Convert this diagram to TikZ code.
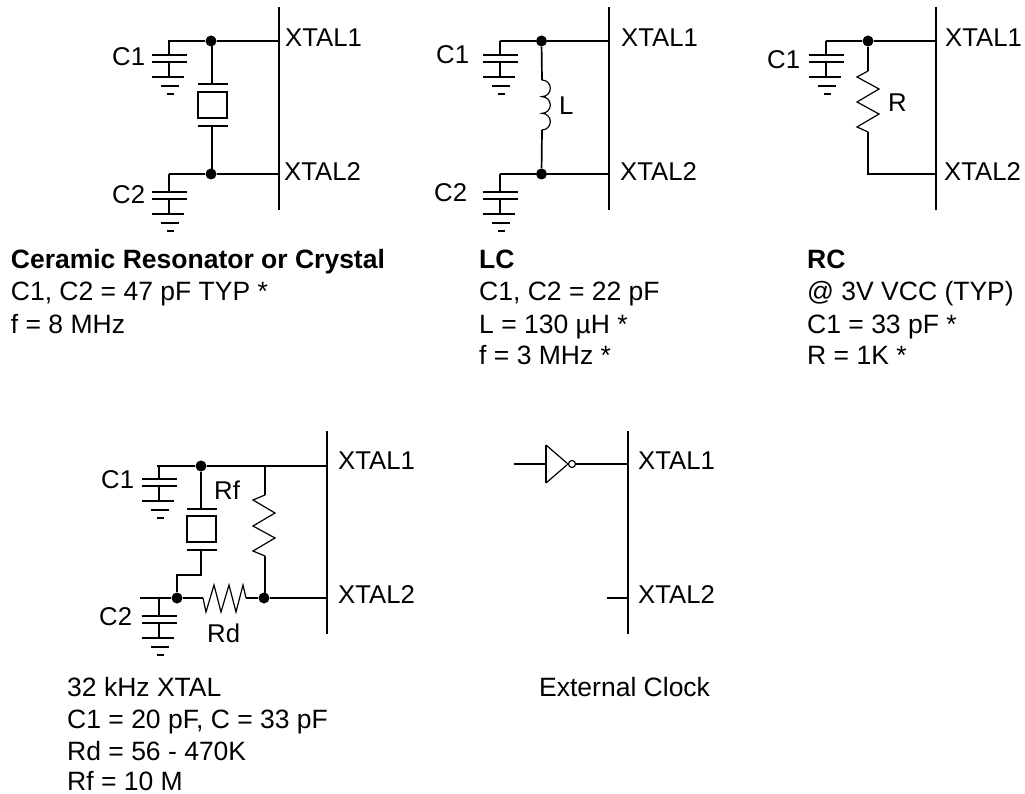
\documentclass[tikz,border=0pt]{standalone}
\usepackage{fontspec}
\setmainfont{Liberation Sans}
\newcommand{\capgnd}[3]{% x, wire y, first plate y
 \draw[wire] (#1,-#2) -- (#1,-#3);
 \draw[wire] (#1-17,-#3) -- (#1+18,-#3);
 \draw[wire] (#1-17,-#3-7) -- (#1+18,-#3-7);
 \draw[wire] (#1,-#3-7) -- (#1,-#3-22);
 \draw[wire] (#1-17,-#3-22) -- (#1+15,-#3-22);
 \draw[wire] (#1-8,-#3-31) -- (#1+10,-#3-31);
 \draw[wire] (#1-2,-#3-39) -- (#1+5,-#3-39);
}
\tikzset{
 x=1pt,y=1pt,
 wire/.style={line width=1.7pt,line cap=butt},
 thin wire/.style={line width=1.2pt},
 jdot/.style={circle,fill=black,inner sep=0pt,minimum size=11pt},
 lbl/.style={font=\fontsize{25.7}{31}\selectfont,anchor=west,inner sep=0pt},
 blk/.style={font=\fontsize{26.5}{32}\selectfont,inner sep=0pt,anchor=base west},
}
\begin{document}
\begin{tikzpicture}
\useasboundingbox (0,0) rectangle (1025,-794);
% ---- panel 1
\draw[wire] (279,-7) -- (279,-210);
\node[jdot] (a1j) at (211,-41) {};
\node[jdot] (a2j) at (211,-174) {};
\coordinate (a1x) at (279,-41); \coordinate (a2x) at (279,-174);
\coordinate (a1c) at (168,-41); \coordinate (a2c) at (169,-174);
\draw[wire] (a1c) -- (a1j) -- (a1x);
\draw[wire] (a2c) -- (a2j) -- (a2x);
\node[draw,line width=1.7pt,minimum width=29pt,minimum height=26pt,inner sep=0pt] (a1q) at (212.5,-105) {};
\coordinate (a1p) at (212,-84); \coordinate (a2p) at (212,-126);
\draw[wire] (212,-41) -- (a1p); \draw[wire] (a2p) -- (212,-174);
\draw[wire] (198,-84) -- (228,-84); \draw[wire] (198,-126) -- (228,-126);
\capgnd{169}{41}{55}
\capgnd{169}{174}{192}
\node[lbl] (a1l) at (112,-57) {C1};
\node[lbl] (a2l) at (112,-195) {C2};
\node[lbl] (a1n) at (285,-38) {XTAL1};
\node[lbl] (a2n) at (284,-172) {XTAL2};
\node[blk] (a3a) at (10.7,-269) {\textbf{Ceramic Resonator or Crystal}};
\node[blk] (a3b) at (10.7,-301) {C1, C2 = 47 pF TYP *};
\node[blk] (a3c) at (10.7,-333) {f = 8 MHz};
% ---- panel 2
\draw[wire] (609,-7) -- (609,-210);
\node[jdot] (b1j) at (541.5,-41) {};
\node[jdot] (b2j) at (541.5,-174) {};
\coordinate (b1x) at (609,-41); \coordinate (b2x) at (609,-174);
\coordinate (b1c) at (500,-41); \coordinate (b2c) at (500,-174);
\coordinate (bi1) at (542,-80); \coordinate (bi2) at (542,-130);
\draw[wire] (b1c) -- (b1j) -- (b1x);
\draw[wire] (b2c) -- (b2j) -- (b2x);
\draw[wire] (b1j) -- (bi1);
\draw[wire] (bi2) -- (b2j);
\draw[thin wire] (bi1) arc[start angle=90,end angle=-90,radius=8.33]
 arc[start angle=90,end angle=-90,radius=8.33]
 arc[start angle=90,end angle=-90,radius=8.33];
\capgnd{500}{41}{55}
\capgnd{500}{174}{192}
\node[lbl] (b1l) at (436,-55) {C1};
\node[lbl] (b2l) at (434,-193) {C2};
\node[lbl] (bL) at (559,-106) {L};
\node[lbl] (b1n) at (621,-38) {XTAL1};
\node[lbl] (b2n) at (620,-172) {XTAL2};
\node[blk] (b3a) at (479,-269) {\textbf{LC}};
\node[blk] (b3b) at (479,-301) {C1, C2 = 22 pF};
\node[blk] (b3c) at (479,-333) {L = 130 µH *};
\node[blk] (b3d) at (479,-364) {f = 3 MHz *};
% ---- panel 3
\draw[wire] (936,-7) -- (936,-210);
\node[jdot] (c1j) at (868,-41) {};
\coordinate (c1x) at (936,-41); \coordinate (c2x) at (936,-174);
\coordinate (c1c) at (826,-41);
\draw[wire] (c1c) -- (c1j) -- (c1x);
\draw[wire] (c1j) -- (868,-71);
\draw[thin wire] (868,-71) -- (857,-77) -- (879,-89) -- (857,-102) -- (879,-114) -- (857,-127) -- (868,-132);
\draw[wire,line join=miter] (868,-132) -- (868,-174) -- (c2x);
\capgnd{826}{41}{55}
\node[lbl] (c1l) at (767,-60) {C1};
\node[lbl] (cR) at (888,-103) {R};
\node[lbl] (c1n) at (945,-38) {XTAL1};
\node[lbl] (c2n) at (944,-172) {XTAL2};
\node[blk] (c3a) at (807,-269) {\textbf{RC}};
\node[blk] (c3b) at (807,-301) {@ 3V VCC (TYP)};
\node[blk] (c3c) at (807,-333) {C1 = 33 pF *};
\node[blk] (c3d) at (807,-364) {R = 1K *};
% ---- panel 4
\draw[wire] (327,-431) -- (327,-634);
\node[jdot] (d1j) at (201,-466) {};
\node[jdot] (d2j) at (177,-598) {};
\node[jdot] (d3j) at (264,-598) {};
\coordinate (d1x) at (327,-466); \coordinate (d2x) at (327,-598);
\coordinate (d1c) at (157,-466); \coordinate (d2c) at (140,-598);
\draw[wire] (d1c) -- (d1j) -- (d1x);
\draw[wire] (d2c) -- (d2j);
\draw[wire] (d3j) -- (d2x);
\draw[wire] (d2j) -- (203,-598);
\draw[thin wire] (203,-598) -- (206,-612) -- (214,-585) -- (221,-612) -- (229,-585) -- (236,-612) -- (243,-585) -- (246,-598);
\draw[wire] (246,-598) -- (d3j);
\draw[wire] (d1j) -- (201,-509);
\draw[wire] (187,-509) -- (217,-509);
\node[draw,line width=1.7pt,minimum width=29pt,minimum height=26pt,inner sep=0pt] (d1q) at (201.7,-529) {};
\draw[wire] (187,-550) -- (217,-550);
\draw[wire] (201,-550) -- (201,-575) -- (177,-575) -- (d2j);
\draw[wire] (265,-466) -- (265,-495);
\draw[thin wire] (265,-495) -- (253,-500) -- (275,-513) -- (253,-526) -- (275,-538) -- (253,-551) -- (265,-556);
\draw[wire] (265,-556) -- (265,-598);
\capgnd{159}{466}{479}
\capgnd{159}{598}{616}
\node[lbl] (d1l) at (101,-480) {C1};
\node[lbl] (d2l) at (99,-617) {C2};
\node[lbl] (dRf) at (214,-490) {Rf};
\node[lbl] (dRd) at (207,-633) {Rd};
\node[lbl] (d1n) at (338,-461) {XTAL1};
\node[lbl] (d2n) at (338,-595) {XTAL2};
\node[blk] (d3a) at (67,-696) {32 kHz XTAL};
\node[blk] (d3b) at (67,-728) {C1 = 20 pF, C = 33 pF};
\node[blk] (d3c) at (67,-760) {Rd = 56 - 470K};
\node[blk] (d3d) at (67,-790) {Rf = 10 M};
% ---- panel 5
\draw[wire] (628,-431) -- (628,-634);
\coordinate (e1i) at (514,-464); \coordinate (e1g) at (546,-464);
\coordinate (e1x) at (628,-464);
\coordinate (e2s) at (607,-598); \coordinate (e2x) at (628,-598);
\draw[wire] (e1i) -- (e1g);
\draw[wire] (546,-445) -- (546,-483);
\draw[thin wire] (546,-445) -- (568,-464) -- (546,-483);
\node[draw,circle,line width=1.2pt,inner sep=0pt,minimum size=7pt] (e1b) at (572,-464) {};
\draw[wire] (e1b) -- (e1x);
\draw[wire] (e2s) -- (e2x);
\node[lbl] (e1n) at (638,-461) {XTAL1};
\node[lbl] (e2n) at (638,-595) {XTAL2};
\node[blk] (e3) at (539,-696) {External Clock};
\end{tikzpicture}
\end{document}
